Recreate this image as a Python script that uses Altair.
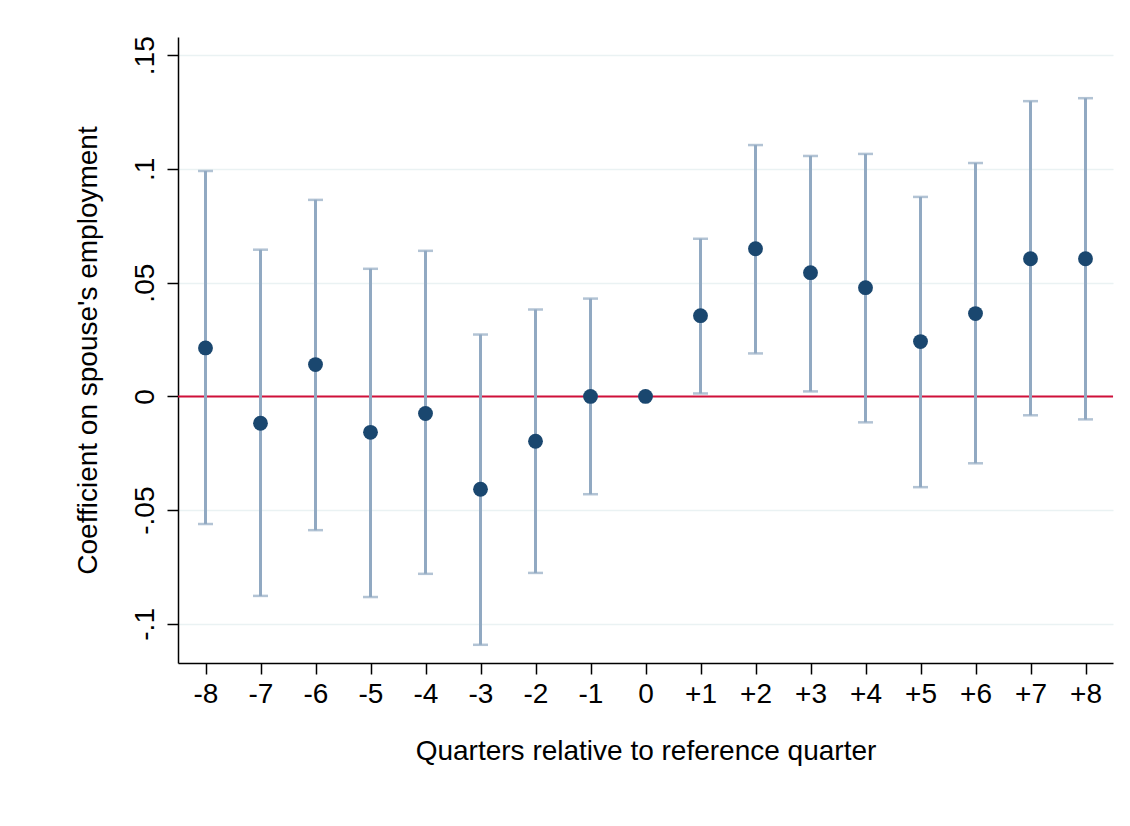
import altair as alt
import pandas as pd

# ---- data ----
quarters = list(range(-8, 9))
x_labels = ["-8", "-7", "-6", "-5", "-4", "-3", "-2", "-1", "0",
            "+1", "+2", "+3", "+4", "+5", "+6", "+7", "+8"]
coef = [0.0213, -0.0118, 0.0140, -0.0158, -0.0075, -0.0408, -0.0197, 0.0, 0.0,
        0.0355, 0.0649, 0.0544, 0.0478, 0.0241, 0.0364, 0.0605, 0.0605]
ci_low = [-0.0561, -0.0877, -0.0588, -0.0882, -0.0780, -0.1092, -0.0776, -0.0430, None,
          0.0013, 0.0189, 0.0022, -0.0114, -0.0399, -0.0294, -0.0083, -0.0101]
ci_high = [0.0991, 0.0645, 0.0864, 0.0561, 0.0640, 0.0272, 0.0382, 0.0430, None,
           0.0693, 0.1105, 0.1057, 0.1066, 0.0877, 0.1026, 0.1298, 0.1311]
y_ticks = [-0.1, -0.05, 0, 0.05, 0.1, 0.15]
y_tick_labels = ["-.1", "-.05", "0", ".05", ".1", ".15"]
ref_value = [0]

x_title = "Quarters relative to reference quarter"
y_title = "Coefficient on spouse's employment"

# ---- tables ----
df = pd.DataFrame({"q": quarters, "coef": coef, "lo": ci_low, "hi": ci_high})
df_ci = df.dropna(subset=["lo", "hi"])
df_ref = pd.DataFrame({"y": ref_value})

FONT = "Liberation Sans"
POINT = "#1a476f"
CI = "#91a9c2"
RED = "#d0103a"
GRID = "#eaf2f3"

x_label_expr = "[" + ",".join("'%s'" % s for s in x_labels) + "][datum.value + 8]"
y_label_expr = ""
for v, s in zip(y_ticks, y_tick_labels):
    y_label_expr += "abs(datum.value - (%r)) < 1e-9 ? '%s' : " % (v, s)
y_label_expr += "''"

x_scale = alt.Scale(domain=[-8.5, 8.5], nice=False, zero=False)
y_scale = alt.Scale(domain=[-0.1172, 0.158], nice=False, zero=False)

x_axis = alt.Axis(
    title=x_title, values=quarters, labelExpr=x_label_expr, grid=False,
    labelFontSize=28, titleFontSize=28, labelFont=FONT, titleFont=FONT,
    titleFontWeight="normal", labelColor="black", titleColor="black",
    domainColor="black", domainWidth=1.5, tickColor="black", tickWidth=1.5,
    tickSize=11, labelPadding=6, titlePadding=29,
)
y_axis = alt.Axis(
    title=y_title, values=y_ticks, labelExpr=y_label_expr, grid=True,
    gridColor=GRID, gridWidth=1.5,
    labelAngle=270, labelAlign="center", labelBaseline="bottom",
    labelFontSize=28, titleFontSize=28, labelFont=FONT, titleFont=FONT,
    titleFontWeight="normal", labelColor="black", titleColor="black",
    domainColor="black", domainWidth=1.5, tickColor="black", tickWidth=1.5,
    tickSize=11, labelPadding=8, titlePadding=29,
)

base_x = alt.X("q:Q", scale=x_scale, axis=x_axis)

ref = alt.Chart(df_ref).mark_rule(color=RED, strokeWidth=2).encode(
    y=alt.Y("y:Q", scale=y_scale, axis=y_axis)
)

bars = alt.Chart(df_ci).mark_rule(color=CI, strokeWidth=3).encode(
    x=base_x,
    y=alt.Y("lo:Q", scale=y_scale, axis=y_axis),
    y2="hi:Q",
)

cap_lo = alt.Chart(df_ci).mark_tick(color=CI, orient="horizontal", size=15, thickness=2.5).encode(
    x=base_x, y=alt.Y("lo:Q", scale=y_scale, axis=y_axis)
)
cap_hi = alt.Chart(df_ci).mark_tick(color=CI, orient="horizontal", size=15, thickness=2.5).encode(
    x=base_x, y=alt.Y("hi:Q", scale=y_scale, axis=y_axis)
)

points = alt.Chart(df).mark_circle(color=POINT, size=220, opacity=1).encode(
    x=base_x, y=alt.Y("coef:Q", scale=y_scale, axis=y_axis)
)

chart = alt.layer(ref, bars, cap_lo, cap_hi, points).properties(
    width=935, height=626,
    autosize=alt.AutoSizeParams(type="none"),
    padding={"left": 170, "top": 29, "right": 9, "bottom": 120},
    background="white",
).configure_view(stroke=None)

chart.save("out.html", embed_options={"renderer": "svg", "actions": False})
